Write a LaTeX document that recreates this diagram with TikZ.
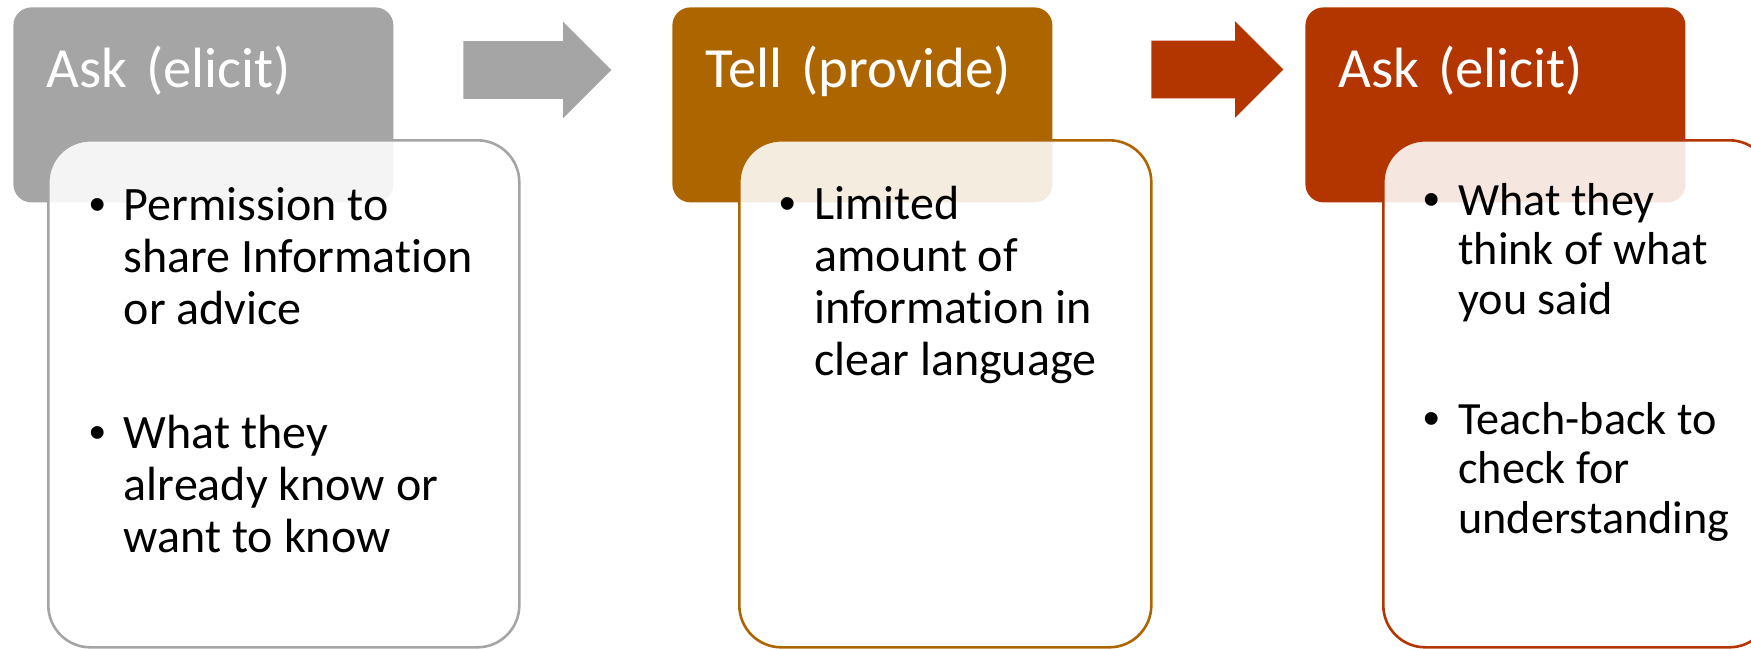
\documentclass[tikz,border=0pt]{standalone}
\usepackage{fontspec}
\setmainfont{Carlito}[RawFeature=-liga]
\newfontfamily\bulletfont{Liberation Sans}
\usetikzlibrary{shapes.arrows}

\definecolor{askgray}{HTML}{A5A5A5}
\definecolor{tellorange}{HTML}{AD6500}
\definecolor{askred}{HTML}{B33500}

\newcommand\headfont{\fontsize{28.4pt}{33pt}\selectfont}
\newcommand\bodyfont{\fontsize{24pt}{26.15pt}\selectfont}
\newcommand\smallbodyfont{\fontsize{23.1pt}{24.75pt}\selectfont}
\newcommand\bulletrows[1]{\begin{tabular}[t]{@{}l@{}}#1\end{tabular}}

\tikzset{
  header/.style={anchor=north west, fill=#1, rounded corners=9pt,
    minimum width=190pt, text width=157pt, inner xsep=16.5pt, inner ysep=0pt,
    text height=40pt, text depth=57.5pt, align=left, font=\headfont, text=white},
  bodybox/.style={anchor=north west, draw=#1, line width=1.3pt, fill=white,
    fill opacity=0.88, rounded corners=21pt, minimum height=253.5pt, inner sep=0pt},
  flow/.style={single arrow, anchor=tail, fill=#1, inner xsep=0pt, inner ysep=14.25pt,
    single arrow head extend=9.75pt, single arrow tip angle=90},
  item/.style={anchor=base west, inner sep=0pt, font=\bodyfont},
  dot/.style={anchor=base, inner sep=0pt, font=\bulletfont\fontsize{23.5pt}{26pt}\selectfont}
}

\begin{document}
\begin{tikzpicture}[x=0.5pt,y=-0.5pt]
	\clip (0,0) rectangle (1751,648);
	\node[header=askgray] (askhead) at (13,7) {Ask (elicit)};
	\node[header=tellorange] (tellhead) at (672,7) {Tell (provide)};
	\node[header=askred] (checkhead) at (1305,7) {Ask (elicit)};

	\node[bodybox=askgray, minimum width=235.5pt] (askbody) at (47,139) {};
	\node[bodybox=tellorange, minimum width=206pt] (tellbody) at (738,139) {};
	\node[bodybox=askred, minimum width=194pt] (checkbody) at (1382,139) {};

	\node[flow=askgray, minimum height=74pt] (askflow) at (463,70) {};
	\node[flow=askred, minimum height=66pt] (tellflow) at (1151,69.5) {};

	\node[item] (askone) at (123.5,220) {\bulletrows{Permission to\\share Information\\or advice}};
	\node[item] (asktwo) at (123.5,448) {\bulletrows{What they\\already know or\\want to know}};
	\node[item] (tellone) at (814,219) {\bulletrows{Limited\\amount of\\information in\\clear language}};
	\node[item, font=\smallbodyfont] (checkone) at (1458,215) {\bulletrows{What they\\think of what\\you said}};
	\node[item, font=\smallbodyfont] (checktwo) at (1458,434) {\bulletrows{Teach-back to\\check for\\understanding}};

	\node[dot] (askonedot) at ([xshift=-13pt]askone.base west) {\textbullet};
	\node[dot] (asktwodot) at ([xshift=-13pt]asktwo.base west) {\textbullet};
	\node[dot] (tellonedot) at ([xshift=-13pt]tellone.base west) {\textbullet};
	\node[dot] (checkonedot) at ([xshift=-13pt]checkone.base west) {\textbullet};
	\node[dot] (checktwodot) at ([xshift=-13pt]checktwo.base west) {\textbullet};
\end{tikzpicture}
\end{document}
